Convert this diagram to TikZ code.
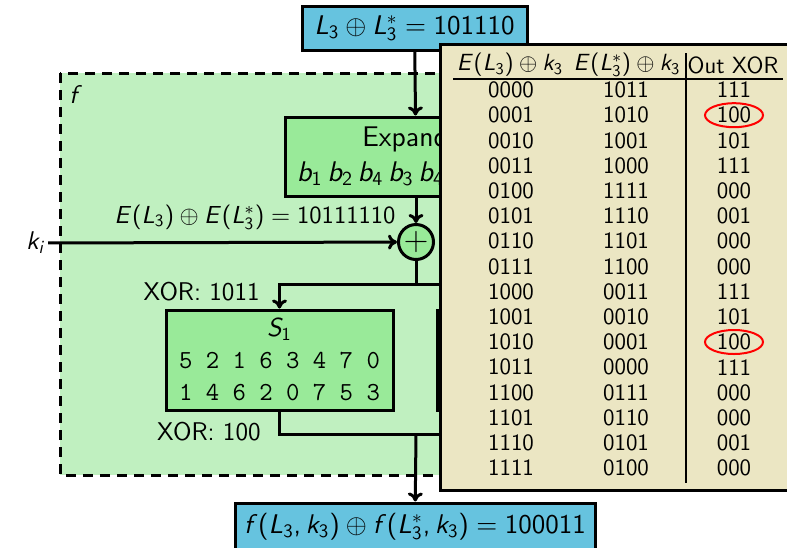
\RequirePackage{fix-cm}
\documentclass[tikz,border=0pt]{standalone}
\usepackage{xcolor}
\usepackage{tikz}
\usetikzlibrary{arrows.meta,positioning,shapes.geometric}
% sans serif math as on the slides
\DeclareFontFamily{OT1}{sfm}{}
\DeclareFontShape{OT1}{sfm}{m}{n}{<-> cmss10}{}
\DeclareFontShape{OT1}{sfm}{m}{sl}{<-> cmssi10}{}
\DeclareSymbolFont{operators}{OT1}{sfm}{m}{n}
\DeclareSymbolFont{letters}{OT1}{sfm}{m}{sl}
\DeclareMathSymbol{,}{\mathpunct}{operators}{"2C}
\definecolor{desblue}{HTML}{66C3DF}
\definecolor{fgreen}{HTML}{C0F0C0}
\definecolor{boxgreen}{HTML}{99EA99}
\definecolor{tblbg}{HTML}{EBE6C3}
\tikzset{
  valbox/.style={rectangle, draw=black, fill=desblue, line width=1.5pt,
    inner sep=3pt, font=\fontsize{13.5}{16}\selectfont},
  sbox/.style={rectangle, draw=black, fill=boxgreen, line width=1.5pt,
    minimum width=113.5pt, minimum height=50pt, align=center, inner sep=2pt,
    font=\fontsize{13}{16}\selectfont},
  flabel/.style={font=\fontsize{12.8}{15}\selectfont, inner sep=1pt},
  tcell/.style={font=\fontsize{11.7}{13}\selectfont, inner sep=0pt},
  farrow/.style={-{To[length=4.5pt,width=7.5pt]}, line width=1.5pt},
  fline/.style={line width=1.5pt}
}

\begin{document}
\sffamily
\begin{tikzpicture}[x=0.5pt,y=-0.5pt]
  \useasboundingbox (0,0) rectangle (787,547);
  % dashed frame of f
  \draw[fill=fgreen, line width=1.5pt, dash pattern=on 5pt off 3.5pt] (60,73) rectangle (772,475);
  \node[flabel] (fname) at (76,95) {$f$};

  \node[valbox, minimum width=112.5pt, minimum height=22pt] (lin) at (414.5,28) {$L_3\oplus L_3^*=101110$};
  \node[rectangle, draw, fill=boxgreen, line width=1.5pt, minimum width=131pt, minimum height=39.5pt,
    align=center, font=\fontsize{14.2}{17.5}\selectfont] (expand) at (416,156.5)
    {Expander\\$b_1\,b_2\,b_4\,b_3\,b_4\,b_3\,b_5\,b_6$};
  \node[circle, draw, fill=boxgreen, line width=1.5pt, minimum size=17.5pt, inner sep=0pt,
    font=\fontsize{17}{17}\rmfamily] (xor) at (416,242) {+};
  \node[flabel] (ki) at (36,243) {$k_i$};
  \node[flabel, anchor=east, font=\fontsize{12.3}{15}\selectfont] (elab) at (398,217) {$E(L_3)\oplus E(L_3^*)=10111110$};

  \node[sbox] (s1) at (279.5,360) {$S_1$\\\texttt{5 2 1 6 3 4 7 0}\\\texttt{1 4 6 2 0 7 5 3}};
  \node[sbox] (s2) at (550.5,360) {};
  \node[flabel, anchor=east] (xin) at (262,292) {XOR: 1011};
  \node[flabel, anchor=east] (xout) at (263,432) {XOR: 100};

  \node[valbox, minimum width=180pt, minimum height=23.5pt] (out) at (415,526.5) {$f(L_3,k_3)\oplus f(L_3^*,k_3)=100011$};

  \coordinate (split) at (416,284);
  \coordinate (merge) at (416,434);
  \draw[farrow] (lin) -- (expand);
  \draw[farrow] (expand) -- (xor);
  \draw[farrow] (ki) -- (xor);
  \draw[fline] (xor) -- (split);
  \draw[farrow] (split) -| (s1);
  \draw[farrow] (split) -| (s2);
  \draw[fline] (s1) |- (merge);
  \draw[fline] (s2) |- (merge);
  \draw[farrow] (merge) -- (out);

  % difference table
  \node[rectangle, draw, fill=tblbg, line width=1.5pt, minimum width=180pt, minimum height=223pt] (tbl) at (620,267) {};
  \node[tcell] (h1) at (510,65) {$E(L_3)\oplus k_3$};
  \node[tcell] (h2) at (627,65) {$E(L_3^*)\oplus k_3$};
  \node[tcell] (h3) at (733,65) {Out XOR};
  \draw[line width=0.6pt] (453,79) -- (783,79);
  \draw[line width=0.6pt] (686,53) -- (686,483);
  \foreach \a/\b/\c [count=\i from 0] in {0000/1011/111, 0001/1010/100, 0010/1001/101, 0011/1000/111,
      0100/1111/000, 0101/1110/001, 0110/1101/000, 0111/1100/000,
      1000/0011/111, 1001/0010/101, 1010/0001/100, 1011/0000/111,
      1100/0111/000, 1101/0110/000, 1110/0101/001, 1111/0100/000}{
    \node[tcell] (a\i) at (511,{90+25.2*\i}) {\a};
    \node[tcell] (b\i) at (626,{90+25.2*\i}) {\b};
    \node[tcell] (c\i) at (734,{90+25.2*\i}) {\c};
  }
  \node[ellipse, draw=red, line width=1pt, minimum width=29pt, minimum height=12pt] (hit1) at (c1) {};
  \node[ellipse, draw=red, line width=1pt, minimum width=29pt, minimum height=12pt] (hit2) at (c10) {};
\end{tikzpicture}
\end{document}
